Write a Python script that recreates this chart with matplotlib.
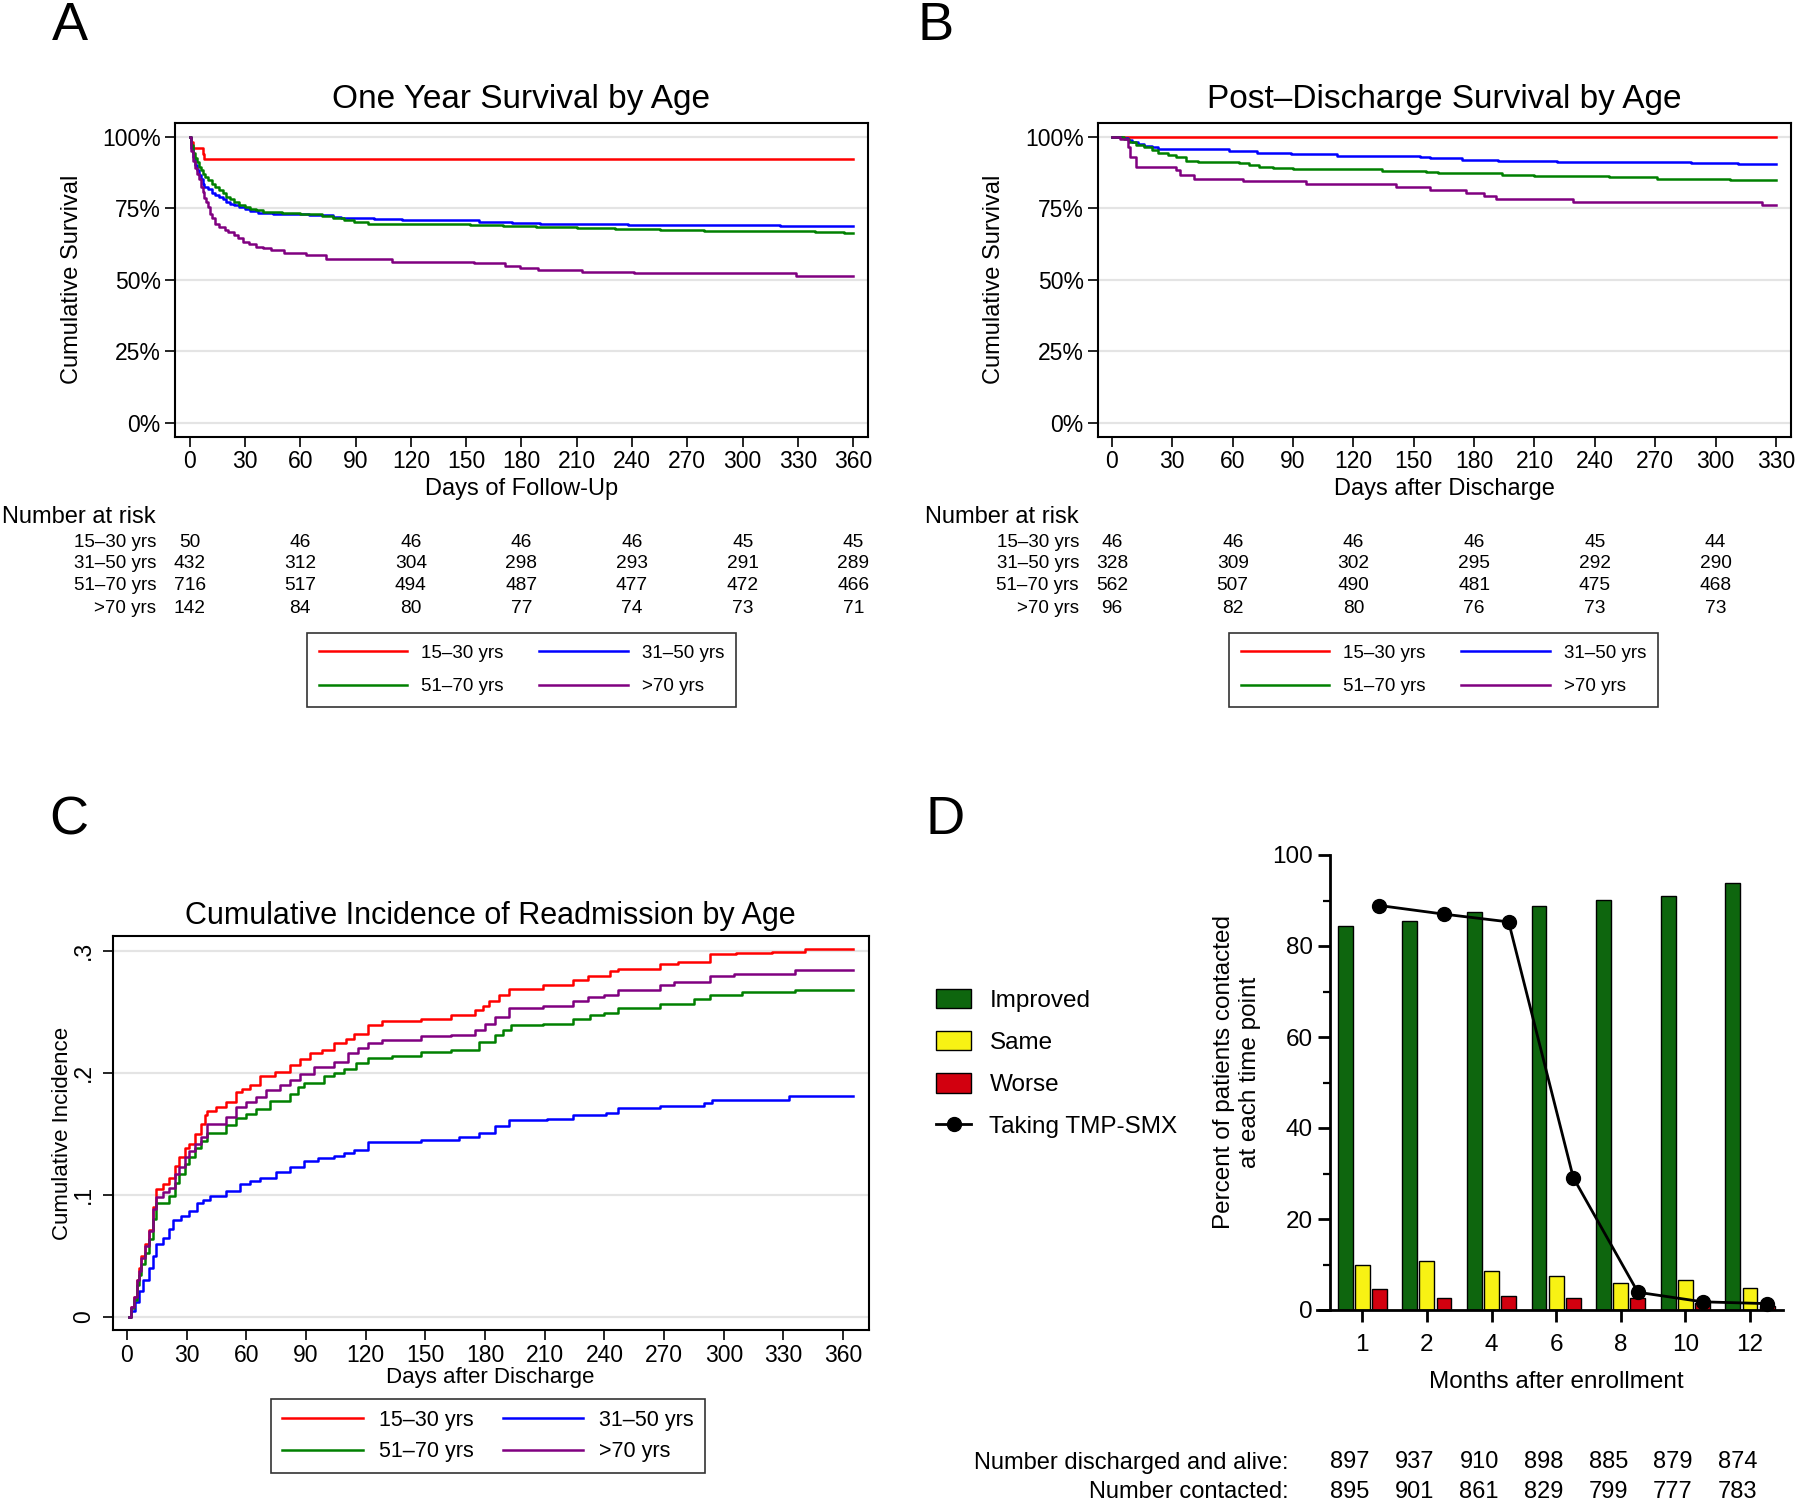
import matplotlib
matplotlib.use('Agg')
import matplotlib.pyplot as plt
import matplotlib.transforms as mtransforms
from matplotlib.lines import Line2D
from matplotlib.patches import Patch

plt.rcParams['font.family'] = ['Liberation Sans', 'DejaVu Sans']

# ---------------- data ----------------
groups = ['15–30 yrs', '31–50 yrs', '51–70 yrs', '>70 yrs']
colors = ['#ff0000', '#0000ff', '#008000', '#800080']

# Panel A: one-year survival (%), step knots
a_1530_t = [0, 1, 2, 7, 8, 360]
a_1530_s = [100, 98, 96, 94, 92, 92]
a_3150_t = [0, 1, 2, 3, 4, 5, 6, 7, 8, 10, 12, 14, 16, 18, 20, 22, 24, 27, 30, 33, 37, 45, 55, 65, 72, 78, 82,
            100, 115, 157, 175, 190, 238, 320, 360]
a_3150_s = [100, 96, 93, 90, 88.3, 86.5, 85, 83.5, 82.5, 81.5, 80.3, 79.5, 78.8, 78, 77.3, 76.6, 76.1, 75.3,
            74.6, 74, 73.4, 73.1, 72.9, 72.7, 72.5, 72, 71.4, 71.1, 70.8, 70.2, 69.9, 69.6, 69.1, 68.7, 68.7]
a_5170_t = [0, 1, 2, 3, 4, 5, 6, 7, 8.6, 10, 12, 14, 16, 18, 20, 22, 24, 27, 30, 33, 36, 40, 50, 60, 72, 78, 84,
            89, 97, 120, 152, 170, 188, 210, 231, 255, 279, 339, 355, 360]
a_5170_s = [100, 97, 94.2, 92.5, 91, 89.5, 88.2, 87, 86, 84.8, 83.5, 82.3, 81.3, 80.2, 79, 78, 77.2, 76.2, 75.3,
            74.6, 74.3, 73.8, 73.3, 72.8, 72.2, 71.5, 70.8, 70.2, 69.6, 69.5, 69.2, 68.8, 68.4, 68.1, 67.8, 67.4,
            67.0, 66.7, 66.4, 66.4]
a_70_t = [0, 1, 2, 3, 4, 5, 6, 7, 8, 9, 10, 11, 12, 14, 16, 19, 21, 24, 26, 29, 32, 36, 40, 44, 51, 63, 74, 110,
          154, 171, 179, 189, 213, 241, 329, 360]
a_70_s = [100, 95, 91.5, 89, 87, 85, 82.5, 80.5, 78.5, 77, 75.5, 73, 71.4, 69.5, 68.5, 67.5, 66.5, 65.6, 64.5,
          63.2, 62.5, 61.5, 61, 60.3, 59.2, 58.6, 57.2, 56.2, 55.7, 54.8, 54.2, 53.5, 52.7, 52.2, 51.3, 51.3]

# Panel B: post-discharge survival (%)
b_1530_t = [0, 330]
b_1530_s = [100, 100]
b_3150_t = [0, 5, 8, 10, 13, 16, 20, 23, 55, 58, 72, 89, 112, 153, 158, 174, 192, 221, 288, 311, 330]
b_3150_s = [100, 99.6, 98.8, 98, 97.4, 96.8, 96.3, 95.8, 95.8, 94.9, 94.4, 93.8, 93.3, 93.0, 92.4, 91.8, 91.5,
            91.1, 90.9, 90.5, 90.5]
b_5170_t = [0, 4, 6, 8.4, 12, 16, 20, 23, 28, 32, 37, 43, 63, 68, 73, 80, 90, 134, 156, 162, 194, 210, 247, 271,
            307, 330]
b_5170_s = [100, 100, 99, 98.2, 97.2, 96.3, 95.2, 94.2, 93.5, 93, 91.6, 91.1, 90.7, 90.1, 89.5, 89.0, 88.6, 88.1,
            87.6, 87.2, 86.6, 86.1, 85.9, 85.2, 84.8, 84.8]
b_70_t = [0, 4, 7.8, 9, 11.7, 31.7, 34, 41, 65, 96.5, 141, 158, 176, 185, 191, 229, 323, 330]
b_70_s = [100, 99, 96.5, 93, 89.5, 88.3, 86.4, 85.3, 84.3, 83.4, 82.2, 81.3, 80.1, 79.2, 78.0, 77.0, 76.0, 76.0]

# Panel C: cumulative incidence of readmission
c_1530_t = [1, 2, 3.7, 5, 6, 7.3, 9, 11, 13, 14.7, 18, 21, 24, 26, 29, 31, 34, 37, 39, 40.3, 45, 50, 55, 58, 62,
            67, 74.6, 82, 87, 92, 98, 104, 110, 114, 121, 128, 148, 163, 175, 179, 182, 187, 192, 209, 224, 232,
            243, 247, 268, 277, 293, 306, 324, 341, 365]
c_1530_v = [0, 0.008, 0.016, 0.03, 0.04, 0.05, 0.06, 0.071, 0.09, 0.105, 0.109, 0.114, 0.124, 0.131, 0.138,
            0.142, 0.15, 0.158, 0.165, 0.169, 0.172, 0.176, 0.184, 0.187, 0.19, 0.197, 0.201, 0.206, 0.211, 0.216,
            0.219, 0.224, 0.228, 0.232, 0.239, 0.242, 0.244, 0.247, 0.251, 0.255, 0.259, 0.264, 0.269, 0.272,
            0.276, 0.279, 0.283, 0.285, 0.289, 0.291, 0.297, 0.298, 0.299, 0.301, 0.301]
c_3150_t = [1, 2, 4, 6, 8, 11, 13, 14.7, 18, 21, 23, 27, 31, 35, 38, 42, 50, 57, 62, 67, 75, 82, 89, 96, 104, 109,
            114, 121, 148, 167, 177, 185, 192, 211, 224, 241, 247, 268, 290, 294, 333, 365]
c_3150_v = [0, 0.005, 0.012, 0.021, 0.03, 0.04, 0.05, 0.06, 0.065, 0.072, 0.079, 0.083, 0.087, 0.093, 0.096,
            0.099, 0.103, 0.109, 0.111, 0.114, 0.119, 0.123, 0.128, 0.13, 0.132, 0.134, 0.137, 0.143, 0.145, 0.147,
            0.151, 0.156, 0.161, 0.162, 0.165, 0.167, 0.171, 0.173, 0.175, 0.178, 0.181, 0.181]
c_5170_t = [1, 2, 3.7, 5, 6, 7.3, 9, 11, 13, 14.7, 21, 24, 26, 29, 31, 34, 37, 40, 50, 55, 60, 65, 72, 82, 86, 89,
            99, 104, 109, 115, 121, 133, 148, 163, 177, 185, 189, 193, 209, 224, 233, 240, 247, 268, 285, 293, 309,
            336, 365]
c_5170_v = [0, 0.007, 0.014, 0.026, 0.034, 0.043, 0.052, 0.064, 0.08, 0.093, 0.099, 0.11, 0.117, 0.125, 0.131,
            0.138, 0.144, 0.151, 0.157, 0.163, 0.166, 0.17, 0.177, 0.183, 0.188, 0.192, 0.197, 0.2, 0.203, 0.208,
            0.212, 0.214, 0.217, 0.219, 0.225, 0.231, 0.235, 0.239, 0.24, 0.244, 0.247, 0.249, 0.253, 0.256, 0.26,
            0.264, 0.266, 0.268, 0.268]
c_70_t = [1, 2, 3.7, 5, 6, 7.3, 9, 11, 13, 14.7, 18, 21, 24, 26, 29, 31, 34, 37, 40, 50, 55, 60, 65, 70, 77, 82,
          87, 94, 104, 111, 116, 121, 128, 148, 163, 175, 180, 185, 192, 209, 224, 232, 240, 247, 268, 275, 293,
          305, 336, 365]
c_70_v = [0, 0.008, 0.016, 0.03, 0.038, 0.048, 0.058, 0.07, 0.088, 0.098, 0.102, 0.106, 0.117, 0.123, 0.131,
          0.136, 0.142, 0.147, 0.158, 0.164, 0.172, 0.176, 0.18, 0.186, 0.19, 0.194, 0.199, 0.205, 0.209, 0.216,
          0.22, 0.224, 0.227, 0.23, 0.231, 0.235, 0.24, 0.246, 0.253, 0.255, 0.259, 0.262, 0.264, 0.268, 0.272,
          0.274, 0.279, 0.281, 0.284, 0.284]

# Number at risk tables
risk_days_a = [0, 60, 120, 180, 240, 300, 360]
risk_a_1530 = [50, 46, 46, 46, 46, 45, 45]
risk_a_3150 = [432, 312, 304, 298, 293, 291, 289]
risk_a_5170 = [716, 517, 494, 487, 477, 472, 466]
risk_a_70 = [142, 84, 80, 77, 74, 73, 71]
risk_days_b = [0, 60, 120, 180, 240, 300]
risk_b_1530 = [46, 46, 46, 46, 45, 44]
risk_b_3150 = [328, 309, 302, 295, 292, 290]
risk_b_5170 = [562, 507, 490, 481, 475, 468]
risk_b_70 = [96, 82, 80, 76, 73, 73]

# Panel D
months = ['1', '2', '4', '6', '8', '10', '12']
improved = [84.4, 85.4, 87.5, 88.7, 90.1, 91.0, 93.8]
same = [10.0, 10.8, 8.6, 7.5, 6.0, 6.5, 4.8]
worse = [4.7, 2.7, 3.1, 2.7, 2.6, 1.5, 0.8]
tmp_smx = [88.9, 87.0, 85.3, 29.1, 3.9, 1.8, 1.4]
discharged_alive = [897, 937, 910, 898, 885, 879, 874]
contacted = [895, 901, 861, 829, 799, 777, 783]

# ---------------- figure ----------------
W, H = 1800, 1501
fig = plt.figure(figsize=(W / 100, H / 100), dpi=100)


def fx(px):
    return px / W


def fy(py):
    return 1 - py / H


def rect(l, t, r, b):
    return [l / W, 1 - b / H, (r - l) / W, (b - t) / H]


def style_frame(ax):
    for s in ax.spines.values():
        s.set_linewidth(1.5)
        s.set_color('black')
    ax.tick_params(direction='out', length=7, width=1.2, labelsize=16.5, pad=3, colors='black')
    ax.yaxis.grid(True, color='#e4e4e4', lw=1.6)
    ax.set_axisbelow(True)


lw_curve = 1.8

# ---- Panel A ----
axA = fig.add_axes(rect(174.5, 122.5, 868, 436.5))
for t, s, c in [(a_1530_t, a_1530_s, colors[0]), (a_3150_t, a_3150_s, colors[1]),
                (a_5170_t, a_5170_s, colors[2]), (a_70_t, a_70_s, colors[3])]:
    axA.plot(t, s, drawstyle='steps-post', color=c, lw=lw_curve)
axA.set_xlim(-8.2, 368)
axA.set_ylim(-4.8, 104.9)
axA.set_xticks(range(0, 361, 30))
axA.set_yticks([0, 25, 50, 75, 100])
axA.set_yticklabels(['0%', '25%', '50%', '75%', '100%'])
style_frame(axA)

# ---- Panel B ----
axB = fig.add_axes(rect(1097.5, 122.5, 1791, 436.5))
for t, s, c in [(b_1530_t, b_1530_s, colors[0]), (b_3150_t, b_3150_s, colors[1]),
                (b_5170_t, b_5170_s, colors[2]), (b_70_t, b_70_s, colors[3])]:
    axB.plot(t, s, drawstyle='steps-post', color=c, lw=lw_curve)
axB.set_xlim(-7.2, 337.5)
axB.set_ylim(-4.8, 104.9)
axB.set_xticks(range(0, 331, 30))
axB.set_yticks([0, 25, 50, 75, 100])
axB.set_yticklabels(['0%', '25%', '50%', '75%', '100%'])
style_frame(axB)

# ---- Panel C ----
axC = fig.add_axes(rect(113, 936, 869, 1330))
for t, v, c in [(c_1530_t, c_1530_v, colors[0]), (c_3150_t, c_3150_v, colors[1]),
                (c_5170_t, c_5170_v, colors[2]), (c_70_t, c_70_v, colors[3])]:
    axC.plot(t, v, drawstyle='steps-post', color=c, lw=lw_curve)
axC.set_xlim(-7, 373)
axC.set_ylim(-0.0107, 0.312)
axC.set_xticks(range(0, 361, 30))
axC.set_yticks([0, 0.1, 0.2, 0.3])
axC.set_yticklabels(['0', '.1', '.2', '.3'])
style_frame(axC)
axC.tick_params(axis='y', labelrotation=90, pad=6)
for lab in axC.get_yticklabels():
    lab.set_va('center')

# ---- titles, labels, panel letters ----
fig.text(fx(521), fy(99.5), 'One Year Survival by Age', ha='center', va='center', fontsize=24)
fig.text(fx(1444), fy(99.5), 'Post–Discharge Survival by Age', ha='center', va='center', fontsize=24)
fig.text(fx(490), fy(916), 'Cumulative Incidence of Readmission by Age', ha='center', va='center', fontsize=22)

fig.text(fx(72), fy(279), 'Cumulative Survival', rotation=90, ha='center', va='center', fontsize=17)
fig.text(fx(994), fy(279), 'Cumulative Survival', rotation=90, ha='center', va='center', fontsize=17)
fig.text(fx(63), fy(1133), 'Cumulative Incidence', rotation=90, ha='center', va='center', fontsize=16)
fig.text(fx(522), fy(489), 'Days of Follow-Up', ha='center', va='center', fontsize=17)
fig.text(fx(1444), fy(489), 'Days after Discharge', ha='center', va='center', fontsize=17)
fig.text(fx(490), fy(1377), 'Days after Discharge', ha='center', va='center', fontsize=16)

for letter, x, y in [('A', 70, 26), ('B', 936, 26), ('C', 69, 821), ('D', 945, 820)]:
    fig.text(fx(x), fy(y), letter, ha='center', va='center', fontsize=39)

# ---- number at risk tables ----
row_y = [542.5, 564, 585.5, 608.5]
tabA = [risk_a_1530, risk_a_3150, risk_a_5170, risk_a_70]
tabB = [risk_b_1530, risk_b_3150, risk_b_5170, risk_b_70]
for ax, days, tab, hx, lx in [(axA, risk_days_a, tabA, 2, 156), (axB, risk_days_b, tabB, 925, 1079)]:
    tr = mtransforms.blended_transform_factory(ax.transData, fig.transFigure)
    fig.text(fx(hx), fy(516.5), 'Number at risk', ha='left', va='center', fontsize=17)
    for i, row in enumerate(tab):
        fig.text(fx(lx), fy(row_y[i]), groups[i], ha='right', va='center', fontsize=13.5)
        for d, val in zip(days, row):
            ax.text(d, fy(row_y[i]), str(val), transform=tr, ha='center', va='center', fontsize=13.8)

# ---- legends A, B, C ----
handles = [Line2D([], [], color=c, lw=lw_curve) for c in colors]
order = [0, 2, 1, 3]
for ax, cx, cy, fs, hl, ls, bp, cs in [(axA, 521.5, 670, 13.5, 4.7, 0.88, 0.62, 1.9),
                                      (axB, 1443.5, 670, 13.5, 4.7, 0.88, 0.62, 1.9),
                                      (axC, 488, 1436, 15.5, 3.75, 0.5, 0.5, 1.35)]:
    leg = ax.legend([handles[i] for i in order], [groups[i] for i in order], ncol=2, loc='center',
                    bbox_to_anchor=(fx(cx), fy(cy)), bbox_transform=fig.transFigure, frameon=True,
                    fancybox=False, edgecolor='black', fontsize=fs, handlelength=hl, handletextpad=0.75,
                    columnspacing=cs, labelspacing=ls, borderpad=bp)
    leg.get_frame().set_linewidth(1.2)

# ---- Panel D ----
green_d, yellow_d, red_d = '#0e660e', '#f8f214', '#d2000f'
axD = fig.add_axes(rect(1317, 855, 1783, 1310))
xs = list(range(len(months)))
off, bw = 0.265, 0.23
axD.bar([x - off for x in xs], improved, width=bw, color=green_d, edgecolor='black', lw=1.0, zorder=2)
axD.bar(xs, same, width=bw, color=yellow_d, edgecolor='black', lw=1.0, zorder=2)
axD.bar([x + off for x in xs], worse, width=bw, color=red_d, edgecolor='black', lw=1.0, zorder=2)
axD.plot([x + off for x in xs], tmp_smx, color='black', lw=2.0, marker='o', markersize=10, zorder=3,
         clip_on=False)
axD.set_xlim(-0.70, 6.51)
axD.set_ylim(0, 100)
axD.spines['left'].set_position(('data', -0.5))
axD.spines['top'].set_visible(False)
axD.spines['right'].set_visible(False)
for s in ['left', 'bottom']:
    axD.spines[s].set_linewidth(2.0)
axD.set_xticks(xs)
axD.set_xticklabels(months)
axD.set_yticks([0, 20, 40, 60, 80, 100])
axD.set_yticks([10, 30, 50, 70, 90], minor=True)
axD.tick_params(axis='both', which='major', direction='out', length=8.5, width=2.0, labelsize=17.5, pad=4)
axD.tick_params(axis='x', which='major', pad=9)
axD.tick_params(axis='y', which='minor', direction='out', length=5, width=1.6)

fig.text(fx(1556), fy(1381.5), 'Months after enrollment', ha='center', va='center', fontsize=17.5)
fig.text(fx(1237), fy(1072), 'Percent of patients contacted\nat each time point', rotation=90,
         ha='center', va='center', fontsize=17.5, linespacing=1.25, multialignment='center')

dleg_handles = [Patch(facecolor=green_d, edgecolor='black', lw=1.0),
                Patch(facecolor=yellow_d, edgecolor='black', lw=1.0),
                Patch(facecolor=red_d, edgecolor='black', lw=1.0),
                Line2D([], [], color='black', lw=2.0, marker='o', markersize=10)]
axD.legend(dleg_handles, ['Improved', 'Same', 'Worse', 'Taking TMP-SMX'], loc='upper left',
           bbox_to_anchor=(fx(936), fy(989)), bbox_transform=fig.transFigure, frameon=False,
           fontsize=17.5, handlelength=1.45, handleheight=0.85, handletextpad=0.75, labelspacing=0.78,
           borderpad=0, borderaxespad=0)

trD = mtransforms.blended_transform_factory(axD.transData, fig.transFigure)
fig.text(fx(1289), fy(1462.5), 'Number discharged and alive:', ha='right', va='center', fontsize=17)
fig.text(fx(1289), fy(1492.5), 'Number contacted:', ha='right', va='center', fontsize=17)
for x, a, c in zip(xs, discharged_alive, contacted):
    axD.text(x - 0.19, fy(1462.5), str(a), transform=trD, ha='center', va='center', fontsize=17)
    axD.text(x - 0.19, fy(1492.5), str(c), transform=trD, ha='center', va='center', fontsize=17)

fig.savefig('out.png', dpi=100)
